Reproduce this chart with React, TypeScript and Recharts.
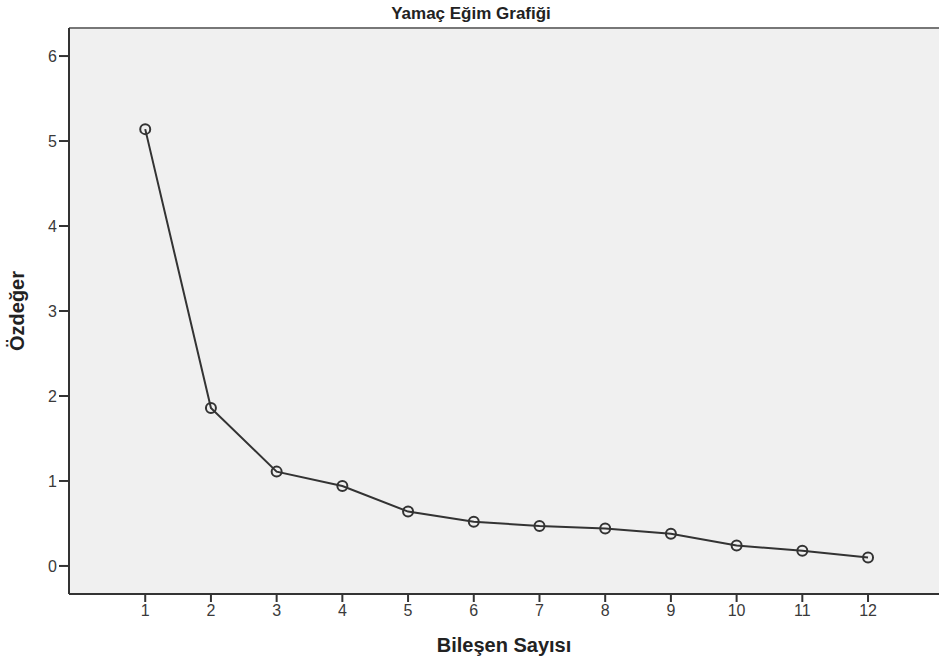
import React from "react";
import { CartesianGrid, Line, LineChart, ReferenceLine, XAxis, YAxis } from "recharts";

// Özdeğerler (scree plot)
const components = [1, 2, 3, 4, 5, 6, 7, 8, 9, 10, 11, 12];
const eigenvalues = [5.14, 1.86, 1.11, 0.94, 0.64, 0.52, 0.47, 0.44, 0.38, 0.24, 0.18, 0.1];
const yTicks = [0, 1, 2, 3, 4, 5, 6];

const data = components.map((c, i) => ({ component: c, value: eigenvalues[i] }));

const font = "'Liberation Sans', Arial, sans-serif";
const ink = "#333";

export default function App() {
  return (
    <div style={{ position: "fixed", left: 0, top: 0, width: 939, height: 661, background: "#fff", overflow: "hidden", fontFamily: font }}>
      <div
        style={{ position: "absolute", left: 0, width: 942, top: 4, textAlign: "center", fontSize: 17, fontWeight: "bold", color: "#222", lineHeight: "20px" }}
      >
        Yamaç Eğim Grafiği
      </div>
      <LineChart width={939} height={661} data={data} margin={{ top: 28, right: 0, left: 0, bottom: 0 }}>
        <CartesianGrid fill="#f0f0f0" horizontal={false} vertical={false} />
        <XAxis
          dataKey="component"
          type="number"
          domain={[-0.16, 13.08]}
          ticks={components}
          height={67}
          tickSize={8}
          tickMargin={3}
          axisLine={{ stroke: ink, strokeWidth: 2 }}
          tickLine={{ stroke: ink, strokeWidth: 2 }}
          tick={{ fill: "#3a3a3a", fontSize: 16, fontFamily: font }}
          label={{ value: "Bileşen Sayısı", position: "insideBottom", offset: 9, fill: "#222", fontSize: 20, fontWeight: "bold", fontFamily: font }}
        />
        <YAxis
          type="number"
          domain={[-0.33, 6.33]}
          ticks={yTicks}
          width={69}
          tickSize={10}
          tickMargin={2}
          axisLine={{ stroke: ink, strokeWidth: 2 }}
          tickLine={{ stroke: ink, strokeWidth: 2 }}
          tick={{ fill: "#3a3a3a", fontSize: 16, fontFamily: font }}
          label={{ value: "Özdeğer", angle: -90, position: "insideLeft", offset: 17, fill: "#222", fontSize: 20, fontWeight: "bold", fontFamily: font, style: { textAnchor: "middle" } }}
        />
        <ReferenceLine y={6.33} stroke="#777" strokeWidth={2} />
        <Line
          dataKey="value"
          stroke={ink}
          strokeWidth={2}
          dot={{ r: 5, stroke: ink, strokeWidth: 2, fill: "none" }}
          isAnimationActive={false}
        />
      </LineChart>
    </div>
  );
}
